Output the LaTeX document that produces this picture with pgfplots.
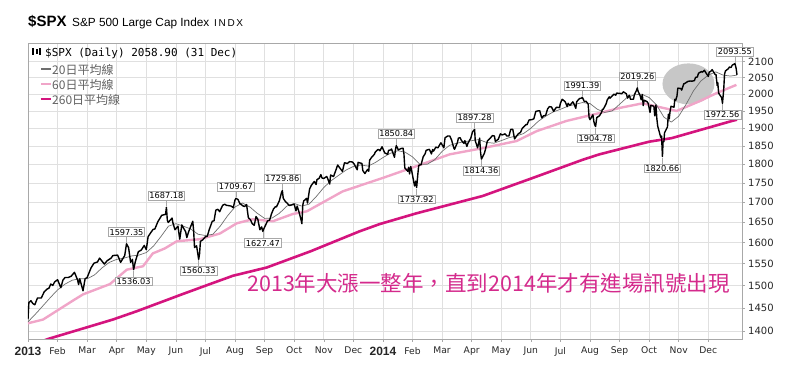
\documentclass[border=0pt]{standalone}
\usepackage{pgfplots}
\pgfplotsset{compat=1.18}
\usepackage{fontspec}
\setmainfont{DejaVu Sans}
\newfontfamily\lib{Liberation Sans}
\newfontfamily\cjk{Noto Sans CJK TC}
\newfontfamily\mono{DejaVu Sans Mono}
\definecolor{ma20}{HTML}{6E6E6E}
\definecolor{ma60}{HTML}{F0A5C8}
\definecolor{ma260}{HTML}{D4147E}
\definecolor{note}{HTML}{D42A8C}
\definecolor{gridc}{HTML}{E0E0E0}
\definecolor{frame}{HTML}{A8A8A8}
\tikzset{lbl/.style={draw=frame, fill=white, inner sep=1.3bp, line width=0.5bp, font=\fontsize{8.2bp}{9bp}\selectfont}}
\newcommand\hi[3]{\draw[frame,line width=0.5bp] ([yshift=1bp]axis cs:#1,#2) -- ([yshift=7bp]axis cs:#1,#2);
  \node[lbl,anchor=south,yshift=7bp] at (axis cs:#1,#2) {#3};}
\newcommand\lo[3]{\draw[frame,line width=0.5bp] ([yshift=-1bp]axis cs:#1,#2) -- ([yshift=-7bp]axis cs:#1,#2);
  \node[lbl,anchor=north,yshift=-7bp] at (axis cs:#1,#2) {#3};}
\newcommand\yr[1]{{\lib\bfseries\fontsize{12bp}{12bp}\selectfont #1}}
\begin{document}
\begin{tikzpicture}[x=1bp,y=1bp]
\path[use as bounding box] (-28,-27) rectangle (772,339);
\begin{axis}[
  at={(0,0)}, anchor=south west,
  scale only axis, width=714bp, height=296bp,
  xmin=0, xmax=24.14, ymode=log, ymin=1384, ymax=2160,
  xtick={0,1,2,3,4,5,6,7,8,9,10,11,12,13,14,15,16,17,18,19,20,21,22,23},
  xticklabels={\yr{2013},Feb,Mar,Apr,May,Jun,Jul,Aug,Sep,Oct,Nov,Dec,\yr{2014},Feb,Mar,Apr,May,Jun,Jul,Aug,Sep,Oct,Nov,Dec},
  ytick={1400,1450,1500,1550,1600,1650,1700,1750,1800,1850,1900,1950,2000,2050,2100},
  yticklabels={1400,1450,1500,1550,1600,1650,1700,1750,1800,1850,1900,1950,2000,2050,2100},
  minor tick num=0,
  xtick pos=bottom, ytick pos=right,
  tick align=outside, major tick length=3bp,
  tick style={draw=frame, line width=0.5bp},
  grid=major, major grid style={draw=gridc, line width=0.7bp},
  axis line style={draw=frame, line width=0.8bp},
  xticklabel style={font=\fontsize{9.2bp}{10bp}\selectfont, text=black!85, anchor=north, inner sep=0pt, yshift=-5bp},
  yticklabel style={font=\fontsize{10bp}{11bp}\selectfont, text=black!85, anchor=west, inner sep=0pt, xshift=3bp},
  clip mode=individual,
]
\fill[black!22] (axis cs:22.33,2031) ellipse [x radius=26bp, y radius=20.5bp];
% 260-day MA
\addplot[ma260, line width=2.6bp, line join=round] coordinates {
(0,1368) (0.68,1384) (2.87,1425) (3.68,1443) (5.2,1480) (6.15,1503) (6.93,1522) (8.07,1541) (9.55,1579) (11.2,1627) (11.89,1645) (13.14,1672) (15.37,1716) (17.06,1763) (18.75,1812) (19.32,1827) (21.0,1862) (21.76,1872) (23.8,1921) (23.97,1925)
};
% 60-day MA
\addplot[ma60, line width=2.4bp, line join=round] coordinates {
(0,1417) (0.51,1425) (1.49,1465) (1.86,1480) (2.77,1503) (3.34,1536) (3.89,1544) (4.22,1574) (4.63,1586) (5.03,1603) (5.81,1608) (6.49,1622) (7.06,1647) (7.6,1657) (8.28,1652) (8.95,1670) (9.43,1677) (9.86,1695) (10.64,1728) (11.45,1749) (11.99,1763) (13.14,1795) (14.26,1827) (15.37,1844) (16.52,1864) (17.2,1892) (18.2,1921) (19.32,1944) (20.0,1959) (20.78,1973) (21.59,1957) (21.93,1950) (22.7,1979) (23.28,2003) (23.95,2028)
};
% 20-day MA
\addplot[ma20, line width=0.7bp, line join=round] coordinates {
(0,1420) (0.3,1440) (0.55,1458) (0.77,1474) (1,1490) (1.25,1503) (1.5,1512) (1.75,1515) (2,1515) (2.25,1524) (2.5,1540) (2.75,1553) (3,1560) (3.25,1563) (3.5,1568) (3.75,1570) (4,1576) (4.25,1592) (4.5,1615) (4.75,1640) (5,1646) (5.25,1640) (5.5,1633) (5.75,1620) (6,1617) (6.25,1620) (6.5,1640) (6.75,1666) (7,1688) (7.25,1698) (7.5,1688) (7.75,1672) (8,1659) (8.25,1660) (8.5,1672) (8.75,1690) (9,1697) (9.25,1690) (9.5,1695) (9.75,1715) (10,1738) (10.25,1756) (10.5,1770) (10.75,1784) (11,1794) (11.25,1798) (11.5,1795) (11.75,1805) (12,1818) (12.25,1830) (12.5,1837) (12.75,1833) (13,1820) (13.25,1800) (13.5,1800) (13.75,1812) (14,1835) (14.25,1852) (14.5,1858) (14.75,1862) (15,1865) (15.25,1868) (15.5,1860) (15.75,1858) (16,1865) (16.25,1873) (16.5,1878) (16.75,1885) (17,1900) (17.25,1920) (17.5,1935) (17.75,1947) (18,1955) (18.25,1964) (18.5,1970) (18.75,1975) (19,1972) (19.25,1955) (19.5,1946) (19.75,1950) (20,1970) (20.25,1990) (20.5,1998) (20.75,2000) (21,1990) (21.25,1968) (21.5,1932) (21.75,1918) (22,1935) (22.25,1970) (22.5,2010) (22.75,2040) (23,2058) (23.25,2068) (23.5,2058) (23.75,2055) (23.97,2058)
};
% price
\addplot[black, line width=1.4bp, line join=round] coordinates {
(0.00,1426) (0.03,1462) (0.10,1466) (0.16,1460) (0.23,1457) (0.32,1472) (0.45,1472) (0.55,1486) (0.65,1492) (0.71,1494) (0.77,1503) (0.84,1500) (0.90,1508) (1.00,1513) (1.11,1495) (1.18,1512) (1.25,1518) (1.36,1518) (1.46,1521) (1.57,1530) (1.68,1512) (1.71,1502) (1.75,1515) (1.86,1488) (1.93,1515) (2.00,1518) (2.13,1540) (2.23,1551) (2.35,1554) (2.42,1563) (2.58,1549) (2.68,1557) (2.81,1563) (2.87,1569) (3.03,1570) (3.13,1553) (3.27,1569) (3.33,1597) (3.40,1588) (3.47,1553) (3.53,1560) (3.57,1536) (3.63,1555) (3.73,1578) (3.83,1582) (3.93,1593) (4.00,1583) (4.06,1614) (4.16,1625) (4.23,1632) (4.29,1633) (4.39,1651) (4.45,1658) (4.52,1667) (4.65,1669) (4.68,1687) (4.71,1655) (4.74,1649) (4.87,1660) (4.90,1648) (4.97,1631) (5.07,1640) (5.13,1608) (5.20,1643) (5.33,1626) (5.37,1612) (5.43,1626) (5.50,1639) (5.57,1652) (5.60,1629) (5.63,1588) (5.70,1592) (5.77,1560) (5.80,1573) (5.83,1603) (5.90,1606) (6.00,1614) (6.06,1615) (6.13,1632) (6.23,1652) (6.29,1653) (6.35,1680) (6.42,1682) (6.48,1676) (6.58,1692) (6.65,1695) (6.71,1692) (6.81,1691) (6.87,1690) (6.94,1686) (7.00,1706) (7.03,1710) (7.10,1707) (7.16,1697) (7.26,1691) (7.32,1689) (7.39,1694) (7.45,1661) (7.52,1656) (7.58,1646) (7.65,1642) (7.71,1664) (7.77,1657) (7.84,1631) (7.90,1638) (7.94,1627) (7.97,1633) (8.10,1653) (8.17,1655) (8.23,1670) (8.30,1683) (8.37,1689) (8.40,1688) (8.50,1704) (8.57,1725) (8.60,1730) (8.63,1710) (8.70,1702) (8.77,1697) (8.83,1692) (8.87,1692) (9.00,1695) (9.06,1678) (9.10,1690) (9.16,1676) (9.23,1656) (9.26,1646) (9.29,1692) (9.32,1703) (9.42,1710) (9.45,1698) (9.52,1734) (9.58,1744) (9.68,1754) (9.74,1746) (9.77,1759) (9.84,1762) (9.90,1772) (9.94,1763) (10.00,1762) (10.10,1767) (10.13,1762) (10.20,1747) (10.23,1771) (10.33,1767) (10.40,1782) (10.47,1798) (10.53,1791) (10.63,1781) (10.70,1804) (10.80,1802) (10.87,1807) (10.97,1806) (11.03,1800) (11.13,1785) (11.16,1805) (11.29,1802) (11.32,1783) (11.39,1775) (11.48,1786) (11.52,1781) (11.55,1811) (11.61,1818) (11.71,1827) (11.74,1833) (11.84,1841) (11.90,1837) (11.97,1848)
(12.06,1831) (12.16,1827) (12.19,1838) (12.26,1839) (12.29,1842) (12.39,1819) (12.42,1838) (12.45,1851) (12.49,1845) (12.52,1839) (12.61,1843) (12.68,1844) (12.71,1828) (12.74,1790) (12.84,1781) (12.87,1792) (12.90,1774) (12.94,1794) (12.97,1783) (13.07,1742) (13.11,1755) (13.14,1738) (13.18,1773) (13.21,1797) (13.29,1799) (13.36,1820) (13.43,1829) (13.46,1838) (13.57,1841) (13.64,1828) (13.68,1840) (13.71,1836) (13.79,1847) (13.86,1845) (13.93,1855) (13.96,1859) (14.06,1845) (14.10,1873) (14.19,1878) (14.26,1878) (14.32,1867) (14.39,1846) (14.42,1841) (14.52,1860) (14.55,1872) (14.61,1873) (14.65,1866) (14.74,1857) (14.77,1865) (14.84,1849) (14.87,1857) (14.97,1872) (15.03,1890) (15.10,1897) (15.12,1865) (15.20,1845) (15.27,1872) (15.30,1833) (15.33,1814) (15.43,1830) (15.47,1842) (15.53,1864) (15.63,1872) (15.70,1879) (15.77,1878) (15.80,1863) (15.90,1869) (15.97,1884) (16.03,1881) (16.13,1884) (16.19,1878) (16.26,1878) (16.32,1897) (16.39,1897) (16.45,1870) (16.52,1878) (16.58,1885) (16.65,1888) (16.71,1900) (16.84,1911) (16.87,1910) (16.94,1924) (17.03,1925) (17.10,1927) (17.17,1949) (17.27,1951) (17.30,1951) (17.37,1930) (17.43,1936) (17.50,1937) (17.57,1957) (17.63,1963) (17.70,1962) (17.77,1949) (17.83,1957) (17.87,1961) (17.97,1960) (18.00,1973) (18.06,1985) (18.16,1978) (18.23,1963) (18.26,1973) (18.32,1967) (18.42,1977) (18.45,1973) (18.52,1958) (18.55,1978) (18.65,1987) (18.71,1988) (18.74,1991) (18.81,1978) (18.87,1979) (18.94,1970) (18.97,1931) (19.00,1925) (19.10,1939) (19.13,1920) (19.16,1910) (19.19,1905) (19.23,1931) (19.32,1936) (19.39,1946) (19.42,1955) (19.45,1955) (19.55,1972) (19.58,1982) (19.65,1992) (19.68,1988) (19.81,2000) (19.87,1997) (19.90,2003) (20.03,2002) (20.07,2001) (20.13,2007) (20.23,2001) (20.27,1988) (20.33,1997) (20.37,1985) (20.47,1985) (20.50,1998) (20.57,2011) (20.60,2019) (20.62,2010) (20.70,1995) (20.73,1983) (20.77,1999) (20.80,1966) (20.83,1982) (20.93,1978) (20.97,1972) (21.03,1946) (21.06,1967) (21.16,1964) (21.19,1936) (21.23,1968) (21.26,1928) (21.29,1906) (21.39,1875) (21.42,1878) (21.45,1821) (21.47,1862) (21.50,1862) (21.52,1887) (21.62,1904) (21.65,1941) (21.68,1927) (21.71,1951) (21.74,1964) (21.84,1961) (21.87,1985) (21.90,1982) (21.94,1994) (21.97,2018) (22.07,2017) (22.10,2012) (22.17,2031) (22.20,2032) (22.30,2038) (22.33,2039) (22.40,2040) (22.43,2039) (22.53,2041) (22.57,2051) (22.63,2052) (22.67,2064) (22.77,2069) (22.80,2067) (22.87,2073) (22.90,2068) (23.00,2054) (23.03,2067) (23.10,2071) (23.13,2075) (23.23,2060) (23.26,2060) (23.30,2026) (23.32,2035) (23.35,2003) (23.45,1990) (23.48,1973) (23.52,2012) (23.55,2061) (23.58,2071) (23.68,2078) (23.71,2083) (23.77,2082) (23.81,2089) (23.90,2094) (23.94,2080) (23.97,2059)
};
\hi{3.33}{1597}{1597.35}
\hi{4.68}{1687}{1687.18}
\hi{7.03}{1710}{1709.67}
\hi{8.60}{1730}{1729.86}
\hi{12.45}{1851}{1850.84}
\hi{15.10}{1897}{1897.28}
\hi{18.74}{1991}{1991.39}
\hi{20.60}{2019}{2019.26}
\hi{23.90}{2094}{2093.55}
\lo{3.57}{1536}{1536.03}
\lo{5.77}{1560}{1560.33}
\lo{7.94}{1627}{1627.47}
\lo{13.14}{1738}{1737.92}
\lo{15.33}{1814}{1814.36}
\lo{19.19}{1905}{1904.78}
\lo{21.45}{1821}{1820.66}
\lo{23.48}{1973}{1972.56}
\end{axis}
% title
\node[anchor=base west, inner sep=0] at (0,313) {\lib\bfseries\fontsize{15bp}{18bp}\selectfont \$SPX};
\node[anchor=base west, inner sep=0] at (44,313) {\lib\fontsize{11.8bp}{14bp}\selectfont S\&P 500 Large Cap Index};
\node[anchor=base west, inner sep=0] at (186,313) {\lib\fontsize{10bp}{12bp}\selectfont I\,N\,D\,X};
% header inside plot
\fill[black] (4,284) rectangle (6,291);
\fill[black] (7.5,285) rectangle (9.5,290);
\fill[black] (11,284) rectangle (13,291);
\node[anchor=base west, inner sep=0] at (17,283) {\mono\fontsize{11bp}{12bp}\selectfont \$SPX (Daily) 2058.90 (31 Dec)};
% legend
\draw[ma20, line width=1.6bp] (13,270) -- (22.5,270);
\node[anchor=base west, inner sep=0, text=black!62] at (24,265) {\cjk\fontsize{12bp}{13bp}\selectfont 20日平均線};
\draw[ma60, line width=2.6bp] (13,255) -- (22.5,255);
\node[anchor=base west, inner sep=0, text=black!62] at (24,250) {\cjk\fontsize{12bp}{13bp}\selectfont 60日平均線};
\draw[ma260, line width=2.6bp] (12.5,240) -- (22.5,240);
\node[anchor=base west, inner sep=0, text=black!62] at (24,235) {\cjk\fontsize{12bp}{13bp}\selectfont 260日平均線};
% annotation
\node[anchor=base west, inner sep=0, text=note] at (219,48) {\cjk\fontsize{21.5bp}{24bp}\selectfont 2013年大漲一整年，直到2014年才有進場訊號出現};
\end{tikzpicture}
\end{document}
